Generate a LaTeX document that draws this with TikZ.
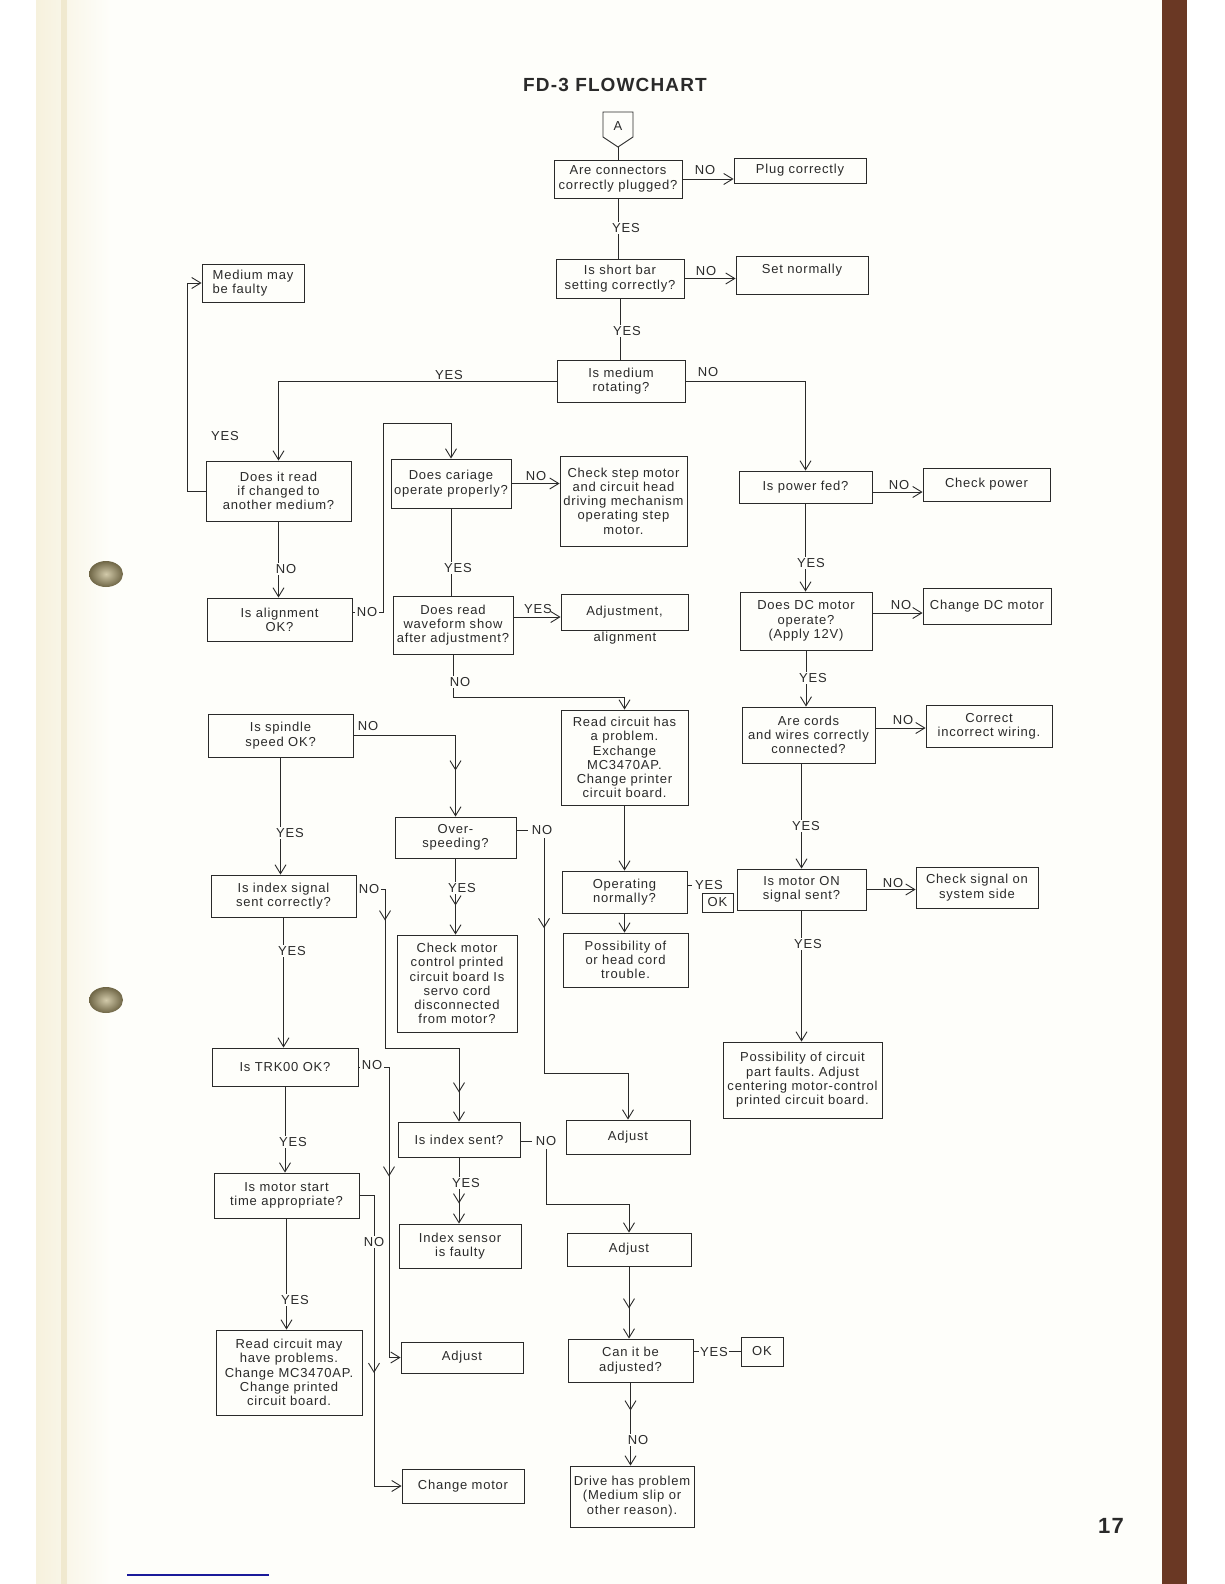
\documentclass[tikz,border=0pt]{standalone}
\usepackage{fontspec}
\setmainfont{Liberation Sans}[LetterSpace=6]
\newfontfamily\titlefont{Liberation Sans}[LetterSpace=6]
\usetikzlibrary{arrows.meta,decorations.markings}
\definecolor{ink}{HTML}{2A2A2A}
\definecolor{paper}{HTML}{FEFEFA}
\definecolor{cream}{HTML}{F6F1DD}
\definecolor{fold}{HTML}{E8DEB8}
\definecolor{bind}{HTML}{6A3824}
\definecolor{holeA}{HTML}{D2CAAA}
\definecolor{holeB}{HTML}{6F6646}
\definecolor{pen}{HTML}{1A1A9A}
\newcommand\flbox[7][]{\node[box,#1,minimum width={(#5-#3)*1pt},minimum height={(#6-#4)*1pt}] (#2) at ({(#3+#5)/2},{(#4+#6)/2}) {#7};}
\frenchspacing
\begin{document}
\begin{tikzpicture}[x=1pt,y=-1pt,color=ink,
  every node/.style={text=ink,font=\fontsize{13}{14.3}\selectfont},
  box/.style={draw=ink,line width=0.9pt,inner sep=0pt,align=center},
  conn/.style={draw=ink,line width=0.9pt},
  arr/.style={conn,-{Straight Barb[length=9pt,width=11pt]}},
  lbl/.style={fill=paper,inner sep=1.5pt},
  midarr/.style={postaction={decorate,decoration={markings,mark=at position #1 with {\arrow{Straight Barb[length=9pt,width=11pt]}}}}}]
\useasboundingbox (0,0) rectangle (1224,1584);
% page background
\fill[white] (0,0) rectangle (1224,1584);
\fill[paper] (36,0) rectangle (1162,1584);
\shade[left color=cream,right color=paper] (36,0) rectangle (110,1584);
\fill[fold,opacity=0.5] (61,0) rectangle (67,1584);
\fill[bind] (1162,0) rectangle (1187,1584);
\shade[inner color=holeA,outer color=holeB] (106,574) ellipse [x radius=17,y radius=13];
\shade[inner color=holeA,outer color=holeB] (106,1000) ellipse [x radius=17,y radius=13];
\draw[pen,line width=1.2pt] (127,1575) -- (269,1575);
% title and page number
\node[font=\titlefont\bfseries\fontsize{19}{22}\selectfont] (title) at (615,85) {FD-3 FLOWCHART};
\node[font=\bfseries\fontsize{22}{24}\selectfont] (pg) at (1111,1526) {17};
% connector A
\draw[conn,fill=paper] (603,112) -- (633,112) -- (633,137) -- (618,147) -- (603,137) -- cycle;
\node (A) at (618,126) {A};
\coordinate (Atip) at (618,147);
% boxes
\flbox{conn}{554}{160}{682}{198}{Are connectors\\correctly plugged?}
\flbox{plug}{734}{158}{866}{183}{Plug correctly}
\flbox{short}{556}{259}{684}{298}{Is short bar\\setting correctly?}
\flbox{setn}{736}{256}{868}{294}{}
\node (setnT) at (802,270) {Set normally};
\flbox{rot}{557}{360}{685}{402}{Is medium\\rotating?}
\flbox[align=left]{medf}{202}{264}{304}{302}{Medium may\\be faulty}
\flbox{read}{206}{461}{351}{521}{Does it read\\if changed to\\another medium?}
\flbox{carr}{391}{459}{511}{508}{Does cariage\\operate properly?}
\flbox{step}{560}{456}{687}{546}{Check step motor\\and circuit head\\driving mechanism\\operating step\\motor.}
\flbox{power}{739}{471}{872}{503}{Is power fed?}
\flbox{chkp}{923}{468}{1050}{501}{Check power}
\flbox{algn}{207}{598}{352}{641}{Is alignment\\OK?}
\flbox{wave}{393}{596}{513}{654}{Does read\\waveform show\\after adjustment?}
\flbox{adj0}{561}{594}{688}{630}{Adjustment,}
\node (alnT) at (625,638) {alignment};
\flbox{dcm}{740}{592}{872}{650}{Does DC motor\\operate?\\(Apply 12V)}
\flbox{chdc}{923}{588}{1051}{624}{Change DC motor}
\flbox{spin}{208}{714}{353}{757}{Is spindle\\speed OK?}
\flbox{rc1}{561}{710}{688}{805}{Read circuit has\\a problem.\\Exchange\\MC3470AP.\\Change printer\\circuit board.}
\flbox{cords}{742}{707}{875}{763}{Are cords\\and wires correctly\\connected?}
\flbox{corr}{926}{705}{1052}{747}{Correct\\incorrect wiring.}
\flbox{over}{395}{817}{516}{858}{Over-\\speeding?}
\flbox{opn}{562}{871}{687}{913}{Operating\\normally?}
\flbox{okA}{702}{893}{733}{912}{OK}
\flbox{mon}{737}{869}{866}{910}{Is motor ON\\signal sent?}
\flbox{chks}{916}{867}{1038}{908}{Check signal on\\system side}
\flbox{idx}{211}{875}{356}{917}{Is index signal\\sent correctly?}
\flbox{poss1}{563}{933}{688}{987}{Possibility of\\or head cord\\trouble.}
\flbox{chkm}{397}{935}{517}{1032}{Check motor\\control printed\\circuit board Is\\servo cord\\disconnected\\from motor?}
\flbox{poss2}{723}{1042}{882}{1118}{Possibility of circuit\\part faults. Adjust\\centering motor-control\\printed circuit board.}
\flbox{trk}{212}{1048}{358}{1086}{Is TRK00 OK?}
\flbox{idxs}{398}{1122}{520}{1157}{Is index sent?}
\flbox{adj1}{566}{1120}{690}{1154}{Adjust}
\flbox{mst}{214}{1173}{359}{1218}{Is motor start\\time appropriate?}
\flbox{isf}{399}{1224}{521}{1268}{Index sensor\\is faulty}
\flbox{adj2}{567}{1233}{691}{1266}{Adjust}
\flbox{rc2}{216}{1330}{362}{1415}{Read circuit may\\have problems.\\Change MC3470AP.\\Change printed\\circuit board.}
\flbox{adjL}{401}{1342}{523}{1373}{Adjust}
\flbox{can}{568}{1339}{693}{1382}{Can it be\\adjusted?}
\flbox{okB}{741}{1337}{783}{1366}{OK}
\flbox{chm}{402}{1469}{524}{1503}{Change motor}
\flbox{drv}{570}{1466}{694}{1527}{Drive has problem\\(Medium slip or\\other reason).}
% connectors: top column
\draw[conn] (Atip) -- (Atip |- conn.north);
\draw[arr] (conn.east) -- (conn.east -| plug.west);
\node (n1) at (705,170) {NO};
\draw[conn] (conn.south) -- (conn.south |- short.north);
\node[lbl] (y1) at (626,228) {YES};
\draw[arr] (short.east) -- (short.east -| setn.west);
\node (n2) at (706,271) {NO};
\draw[conn] (short.south) -- (short.south |- rot.north);
\node[lbl] (y2) at (627,331) {YES};
\draw[arr] (rot.west) -| (read.north);
\node (y3) at (449,375) {YES};
\draw[arr] (rot.east) -| (power.north);
\node (n3) at (708,372) {NO};
% left column
\coordinate (k2) at (187,0);
\draw[arr] (read.west) -- (read.west -| k2) -- (k2 |- medf.west) -- (medf.west);
\node (y4) at (225,436) {YES};
\draw[arr] (read.south) -- (read.south |- algn.north);
\node[lbl] (n4) at (286,569) {NO};
\coordinate (k1) at (383,423);
\draw[arr] ([yshift=7pt]algn.east) coordinate (q1) -- (q1 -| k1) -- (k1) -- (k1 -| carr.north) -- (carr.north);
\node[lbl] (n5) at (367,612) {NO};
\draw[arr] (carr.east) -- (carr.east -| step.west);
\node (n6) at (536,476) {NO};
\draw[conn] (carr.south) -- (carr.south |- wave.north);
\node[lbl] (y5) at (458,568) {YES};
\draw[arr] ([yshift=8pt]wave.east) coordinate (q2) -- (q2 -| adj0.west);
\node (y6) at (538,609) {YES};
\coordinate (k3) at (0,697);
\draw[arr] (wave.south) -- (wave.south |- k3) -- (k3 -| rc1.north) -- (rc1.north);
\node[lbl] (n7) at (460,682) {NO};
% right column
\draw[arr] ([yshift=-5pt]power.east) coordinate (q3) -- (q3 -| chkp.west);
\node (n8) at (899,485) {NO};
\draw[arr] (power.south) -- (power.south |- dcm.north);
\node[lbl] (y7) at (811,563) {YES};
\draw[arr] ([yshift=8pt]dcm.east) coordinate (q4) -- (q4 -| chdc.west);
\node (n9) at (901,605) {NO};
\draw[arr] (dcm.south) -- (dcm.south |- cords.north);
\node[lbl] (y8) at (813,678) {YES};
\draw[arr] ([yshift=7pt]cords.east) coordinate (q5) -- (q5 -| corr.west);
\node (n10) at (903,720) {NO};
\draw[arr] (mon.north |- cords.south) -- (mon.north);
\node[lbl] (y9) at (806,826) {YES};
\draw[arr] (mon.east) -- (mon.east -| chks.west);
\node (n11) at (893,883) {NO};
\draw[arr] (mon.south) -- (mon.south |- poss2.north);
\node[lbl] (y10) at (808,944) {YES};
% middle column
\draw[arr] (rc1.south) -- (rc1.south |- opn.north);
\draw[arr] (opn.south) -- (opn.south |- poss1.north);
\node (y11) at (709,885) {YES};
\draw[conn] (y11.west -| opn.east) -- (y11.west);
\draw[arr,midarr=137pt] (spin.east) -| (over.north);
\node (n12) at (368,726) {NO};
\draw[arr] (spin.south) -- (spin.south |- idx.north);
\node[lbl] (y12) at (290,833) {YES};
\node (n13) at (542,830) {NO};
\draw[conn] (n13.west -| over.east) -- (n13.west);
\coordinate (k5) at (544,1073);
\draw[arr,midarr=90pt] (n13.south -| k5) -- (k5) -- (k5 -| adj1.north) -- (adj1.north);
\draw[arr,midarr=47pt] (over.south) -- (over.south |- chkm.north);
\node[lbl] (y13) at (462,888) {YES};
\coordinate (k6) at (385,1048);
\draw[arr,midarr=60pt,midarr=306pt] ([yshift=7pt]idx.east) coordinate (q6) -- (q6 -| k6) -- (k6) -- (k6 -| idxs.north) -- (idxs.north);
\node[lbl] (n14) at (369,889) {NO};
\draw[arr] (idx.south) -- (idx.south |- trk.north);
\node[lbl] (y14) at (292,951) {YES};
\coordinate (k7) at (389,0);
\draw[arr,midarr=140pt] (trk.east) -- (trk.east -| k7) -- (k7 |- adjL.west) -- (adjL.west);
\node[lbl] (n15) at (372,1065) {NO};
\draw[arr] (trk.south) -- (trk.south |- mst.north);
\node[lbl] (y15) at (293,1142) {YES};
\coordinate (k8) at (374,0);
\draw[arr,midarr=192pt] (mst.east) -- (mst.east -| k8) -- (k8 |- chm.west) -- (chm.west);
\node[lbl] (n16) at (374,1242) {NO};
\draw[arr] (mst.south) -- (mst.south |- rc2.north);
\node[lbl] (y16) at (295,1300) {YES};
\node (n17) at (546,1141) {NO};
\draw[conn] (n17.west -| idxs.east) -- (n17.west);
\coordinate (k9) at (0,1204);
\draw[arr] (n17.south) -- (n17.south |- k9) -- (k9 -| adj2.north) -- (adj2.north);
\draw[arr,midarr=46pt] (idxs.south) -- (idxs.south |- isf.north);
\node[lbl] (y17) at (466,1183) {YES};
\draw[arr,midarr=42pt] (adj2.south) -- (adj2.south |- can.north);
\draw[conn] (okB.west -| can.east) -- (okB.west);
\node[lbl] (y18) at (714,1352) {YES};
\draw[arr,midarr=28pt] (can.south) -- (can.south |- drv.north);
\node[lbl] (n18) at (638,1440) {NO};
\end{tikzpicture}
\end{document}
